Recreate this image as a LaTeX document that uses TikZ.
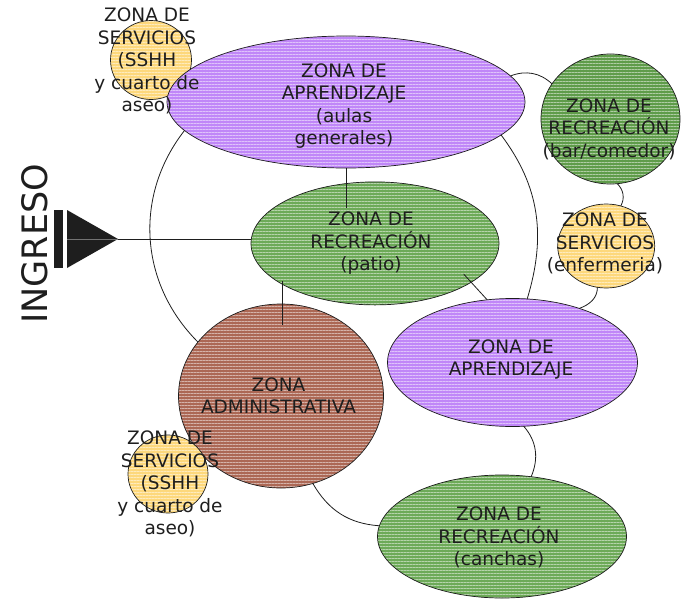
\documentclass[tikz,border=0pt]{standalone}
\usepackage{fontspec}
\setmainfont{DejaVu Sans}
\usetikzlibrary{shapes.geometric, patterns.meta}
\definecolor{cviolet}{HTML}{C087F8}
\definecolor{cgreen}{HTML}{6DAA58}
\definecolor{cgreendk}{HTML}{5F9C4A}
\definecolor{cbrown}{HTML}{AC6855}
\definecolor{cyellow}{HTML}{FDD87C}
\definecolor{cink}{HTML}{1E1E1E}
\tikzset{
  every picture/.style={line width=0.8pt},
  zone/.style={ellipse, draw=cink, line width=0.7pt, inner sep=0pt, outer sep=0pt,
    preaction={fill=#1}, pattern={Lines[angle=0, distance=3pt, line width=0.6pt]}, pattern color=#1!50!white},
  zone/.default=cgreen,
  ztext/.style={align=center, text=cink, inner sep=0pt, font=\fontsize{18.5}{22.5}\selectfont},
  link/.style={draw=cink, line width=0.8pt},
}

\begin{document}
\begin{tikzpicture}[x=1pt, y=1pt]
  \useasboundingbox (0,0) rectangle (686,-603);
  % zones
  \node[zone=cyellow, minimum width=81, minimum height=79] (sshhA) at (151,-60) {};
  \node[zone=cviolet, minimum width=358, minimum height=132] (aprA) at (346,-102) {};
  \node[zone=cgreendk, minimum width=139, minimum height=130] (bar) at (610.5,-119) {};
  \node[zone, minimum width=248, minimum height=123] (patio) at (375,-243.4) {};
  \node[zone=cyellow, minimum width=97, minimum height=84] (enf) at (606.2,-246) {};
  \node[zone=cviolet, minimum width=250, minimum height=128] (aprB) at (512.5,-362.5) {};
  \node[zone=cbrown, minimum width=205, minimum height=184] (admin) at (281,-396) {};
  \node[zone=cyellow, minimum width=80, minimum height=78] (sshhB) at (168,-474) {};
  \node[zone, minimum width=249, minimum height=123] (canchas) at (502,-536.5) {};

  % ingreso
  \coordinate (ingTip) at (118,-239);
  \coordinate (ingBase) at (67,-239);
  \fill[cink] (54,-210) rectangle (63,-268);
  \fill[cink] (67,-210) -- (ingTip) -- (67,-268) -- cycle;
  \draw[black!55, line width=0.5pt] (ingBase) -- (ingTip);
  \draw[link] (ingTip) -- (ingTip -| patio.west);
  \node[rotate=90, text=cink, inner sep=0pt, font=\fontsize{35}{40}\selectfont] (ingreso) at (34.5,-244) {INGRESO};

  % straight links
  \draw[link, shorten >=-26pt] (aprA.south) -- (aprA.south |- patio.north);
  \draw[link, shorten <=-3pt, shorten >=-21pt] (patio.204) -- (patio.204 |- admin.north);
  \draw[link, shorten <=-11pt] (patio.-22) -- (aprB.112);

  % curved links
  \draw[link] (aprA.190) to[out=232, in=135] (admin.147);
  \draw[link] (aprA.-12) to[out=-53, in=73] (aprB.77);
  \draw[link] (aprA.9) to[out=21, in=137] (bar.149);
  \draw[link] (bar.-84) to[out=-45, in=61] (enf.70);
  \draw[link] (enf.258) to[out=-90, in=20] (aprB.39);
  \draw[link] (aprB.-80) to[out=-49, in=67] (canchas.64);
  \draw[link] (admin.-70) to[out=-60, in=176] (canchas.175);

  % texts
  \node[ztext] (sshhAt) at (147,-61) {ZONA DE\\SERVICIOS\\(SSHH\\y cuarto de\\aseo)};
  \node[ztext] (aprAt) at (344,-106) {ZONA DE\\APRENDIZAJE\\(aulas\\generales)};
  \node[ztext] (bart) at (609,-129) {ZONA DE\\RECREACIÓN\\(bar/comedor)};
  \node[ztext] (patiot) at (371,-243.5) {ZONA DE\\RECREACIÓN\\(patio)};
  \node[ztext] (enft) at (605,-243.5) {ZONA DE\\SERVICIOS\\(enfermeria)};
  \node[ztext] (aprBt) at (511,-359.5) {ZONA DE\\APRENDIZAJE};
  \node[ztext] (admint) at (278.5,-396) {ZONA\\ADMINISTRATIVA};
  \node[ztext] (sshhBt) at (170,-484) {ZONA DE\\SERVICIOS\\(SSHH\\y cuarto de\\aseo)};
  \node[ztext] (canchast) at (499,-537.5) {ZONA DE\\RECREACIÓN\\(canchas)};
\end{tikzpicture}
\end{document}
